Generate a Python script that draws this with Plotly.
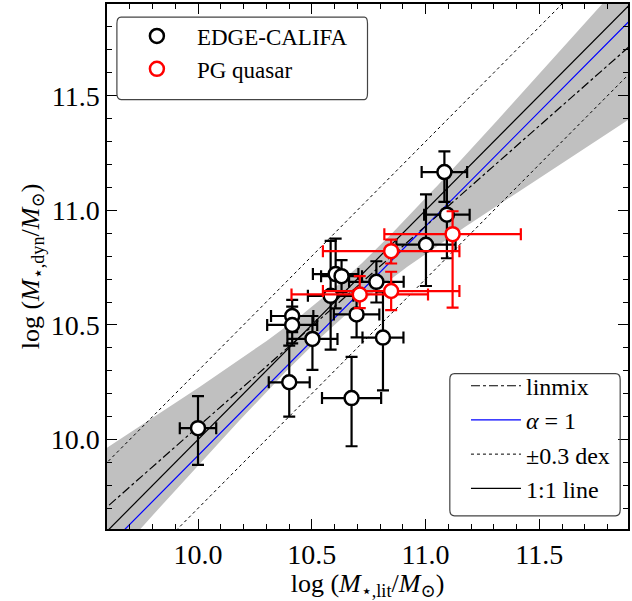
import numpy as np
import plotly.graph_objects as go

# ---------------- data ----------------
edge_x = [10.00, 11.083, 11.094, 11.002, 10.605, 10.631, 10.583, 10.784, 10.697,
          10.414, 10.414, 10.503, 10.813, 10.401, 10.675]
edge_y = [10.05, 11.167, 10.981, 10.850, 10.722, 10.713, 10.627, 10.688, 10.546,
          10.539, 10.500, 10.439, 10.445, 10.250, 10.181]
edge_xerr = [0.08, 0.10, 0.10, 0.13, 0.10, 0.09, 0.10, 0.12, 0.10,
             0.093, 0.11, 0.11, 0.09, 0.09, 0.13]
edge_yerr_plus = [0.14, 0.09, 0.19, 0.22, 0.155, 0.07, 0.24, 0.09, 0.10,
                  0.07, 0.08, 0.10, 0.20, 0.16, 0.18]
edge_yerr_minus = [0.16, 0.13, 0.19, 0.18, 0.15, 0.07, 0.235, 0.09, 0.10,
                   0.07, 0.08, 0.135, 0.23, 0.15, 0.21]

pg_x = [11.119, 10.849, 10.711, 10.849]
pg_y = [10.896, 10.822, 10.633, 10.648]
pg_xerr = [0.30, 0.30, 0.30, 0.30]
pg_yerr_plus = [0.10, 0.05, 0.08, 0.084]
pg_yerr_minus = [0.32, 0.054, 0.06, 0.083]

# linmix fit and its confidence band
linmix_slope = 0.875
linmix_intercept = 1.306
band_a, band_b, band_x0 = 0.08, 0.24, 10.62
alpha1_offset = -0.07      # alpha = 1 relation
dex_offset = 0.3           # +/-0.3 dex

x_range = [9.6, 11.89]
y_range = [9.61, 11.9]

# ---------------- figure ----------------
xs = np.linspace(9.55, 11.95, 241)
lin = linmix_slope * xs + linmix_intercept
w = np.sqrt(band_a ** 2 + band_b ** 2 * (xs - band_x0) ** 2)
upper = lin + w
lower = lin - w

fig = go.Figure()

fig.add_trace(go.Scatter(
    x=np.concatenate([xs, xs[::-1]]), y=np.concatenate([upper, lower[::-1]]),
    fill="toself", fillcolor="rgb(192,192,192)", line=dict(width=0),
    mode="lines", showlegend=False, hoverinfo="skip"))

dot_x = np.concatenate([xs, [np.nan], xs])
dot_y = np.concatenate([xs + dex_offset, [np.nan], xs - dex_offset])
fig.add_trace(go.Scatter(x=dot_x, y=dot_y, mode="lines", name="±0.3 dex",
                         line=dict(color="black", width=1, dash="dot"),
                         legend="legend2", legendrank=3))
fig.add_trace(go.Scatter(x=xs, y=xs, mode="lines", name="1:1 line",
                         line=dict(color="black", width=1.2),
                         legend="legend2", legendrank=4))
fig.add_trace(go.Scatter(x=xs, y=xs + alpha1_offset, mode="lines", name="<i>α</i> = 1",
                         line=dict(color="blue", width=1.2),
                         legend="legend2", legendrank=2))
fig.add_trace(go.Scatter(x=xs, y=lin, mode="lines", name="linmix",
                         line=dict(color="black", width=1.2, dash="dashdot"),
                         legend="legend2", legendrank=1))

fig.add_trace(go.Scatter(
    x=edge_x, y=edge_y, mode="markers", name="EDGE-CALIFA",
    marker=dict(symbol="circle", size=14, color="white",
                line=dict(color="black", width=2.5)),
    error_x=dict(type="data", array=edge_xerr, color="black", thickness=2.2, width=6),
    error_y=dict(type="data", array=edge_yerr_plus, arrayminus=edge_yerr_minus,
                 symmetric=False, color="black", thickness=2.2, width=6),
    legend="legend", legendrank=1))
fig.add_trace(go.Scatter(
    x=pg_x, y=pg_y, mode="markers", name="PG quasar",
    marker=dict(symbol="circle", size=14, color="white",
                line=dict(color="red", width=2.5)),
    error_x=dict(type="data", array=pg_xerr, color="red", thickness=2.2, width=6),
    error_y=dict(type="data", array=pg_yerr_plus, arrayminus=pg_yerr_minus,
                 symmetric=False, color="red", thickness=2.2, width=6),
    legend="legend", legendrank=2))

serif = "Liberation Serif, Times New Roman, DejaVu Serif, serif"
axis_common = dict(
    showline=True, linecolor="black", linewidth=1.5, mirror="allticks",
    ticks="inside", ticklen=10, tickwidth=1.2, tickcolor="black",
    dtick=0.5, tick0=10.0, tickformat=".1f",
    minor=dict(ticks="inside", ticklen=5, dtick=0.1, tickwidth=1, tickcolor="black"),
    showgrid=False, zeroline=False,
    tickfont=dict(family=serif, size=28, color="black"),
)

fig.update_layout(
    width=632, height=601,
    margin=dict(l=107, r=2, t=2, b=72),
    plot_bgcolor="white", paper_bgcolor="white",
    font=dict(family=serif, color="black"),
    xaxis=dict(range=x_range, **axis_common,
               title=dict(text="log (<i>M</i><sub>⋆,lit</sub>/<i>M</i><sub>⊙</sub>)",
                          font=dict(family=serif, size=26), standoff=7)),
    yaxis=dict(range=y_range, **axis_common,
               title=dict(text="log (<i>M</i><sub>⋆,dyn</sub>/<i>M</i><sub>⊙</sub>)",
                          font=dict(family=serif, size=26), standoff=4)),
    legend=dict(x=0.019, y=0.98, xanchor="left", yanchor="top",
                bgcolor="rgba(0,0,0,0)", borderwidth=0,
                font=dict(family=serif, size=23, color="black"),
                itemwidth=70, tracegroupgap=0),
    legend2=dict(x=0.975, y=0.035, xanchor="right", yanchor="bottom",
                 bgcolor="rgba(0,0,0,0)", borderwidth=0,
                 font=dict(family=serif, size=24, color="black"),
                 itemwidth=50, tracegroupgap=0),
    shapes=[
        dict(type="path", xref="paper", yref="paper", layer="above",
             path="M 0.027,0.975 L 0.494,0.975 Q 0.5,0.975 0.5,0.963 L 0.5,0.83 "
                  "Q 0.5,0.818 0.494,0.818 L 0.027,0.818 Q 0.019,0.818 0.019,0.83 "
                  "L 0.019,0.963 Q 0.019,0.975 0.027,0.975 Z",
             line=dict(color="#444", width=1.2), fillcolor="rgba(0,0,0,0)"),
        dict(type="path", xref="paper", yref="paper", layer="above",
             path="M 0.667,0.296 L 0.976,0.296 Q 0.985,0.296 0.985,0.285 L 0.985,0.036 "
                  "Q 0.985,0.025 0.976,0.025 L 0.667,0.025 Q 0.658,0.025 0.658,0.036 "
                  "L 0.658,0.285 Q 0.658,0.296 0.667,0.296 Z",
             line=dict(color="#444", width=1.2), fillcolor="rgba(0,0,0,0)"),
    ],
)

fig.write_html("out.html")
